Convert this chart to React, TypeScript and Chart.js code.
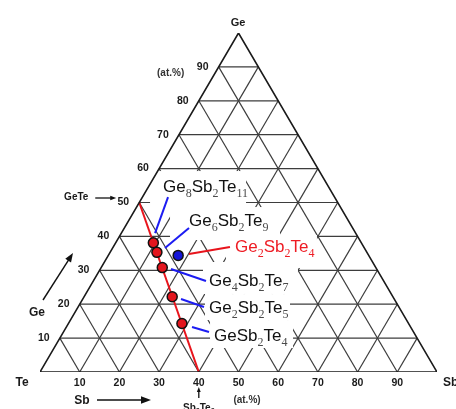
import React, { useEffect, useRef } from "react";
import { Chart, registerables } from "chart.js";

Chart.register(...registerables);

// ---- data ----
const gridTicks = [10, 20, 30, 40, 50, 60, 70, 80, 90];
const tickLabels = ["10", "20", "30", "40", "50", "60", "70", "80", "90"];
const compoundNames = ["Ge8Sb2Te11", "Ge6Sb2Te9", "Ge4Sb2Te7", "Ge2Sb2Te5", "GeSb2Te4"];
const compoundGe = [38.1, 35.3, 30.8, 22.2, 14.3];
const compoundSb = [9.5, 11.8, 15.4, 22.2, 28.6];
const extraNames = ["Ge2Sb2Te4"];
const extraGe = [34.4];
const extraSb = [17.6];
const tieLineGe = [50, 0];
const tieLineSb = [0, 40];

// ---- layout (pixel offsets from each point) ----
const compoundLayout = [
  { text: [9.7, -50.8], lead: [1.7, -9.8, 14.7, -45.8], box: [-3.3, -71.8, 92.7, -32.8] },
  { text: [32.1, -26.8], lead: [8.1, -4.3, 32.1, -24.3], box: [13.1, -45.3, 123.1, -12.3] },
  { text: [46.7, 18.4], lead: [8.7, 1.4, 43.7, 13.4], box: [40.7, -5.6, 135.7, 26.4] },
  { text: [36.8, 16.3], lead: [8.8, 2.3, 31.8, 10.3], box: [32.8, -2.7, 117.8, 23.3] },
  { text: [32.1, 17.5], lead: [10.1, 3.5, 27.1, 8.5], box: [28.1, -3.5, 111.1, 24.5] },
];
const extraLayout = [
  { text: [56.8, -2.9], lead: [10.8, -1.4, 51.8, -8.4], box: [47.8, -20.4, 138.8, 12.6] },
];

const toXY = (ge: number, sb: number) => ({ x: sb + ge / 2, y: ge });

const FONT = '"Liberation Sans", Arial, sans-serif';
const SERIF = '"Liberation Serif", "Times New Roman", serif';
const RED = "#e8141c";
const BLUE = "#1c1cf2";

function drawFormula(
  ctx: CanvasRenderingContext2D,
  name: string,
  x: number,
  y: number,
  mainFont: string,
  subFont: string,
  subDy: number,
  color: string,
  subColor: string
) {
  const re = /([A-Z][a-z]*)(\d*)/g;
  let m: RegExpExecArray | null;
  let cx = x;
  ctx.textAlign = "left";
  ctx.textBaseline = "alphabetic";
  while ((m = re.exec(name)) !== null) {
    ctx.font = mainFont;
    ctx.fillStyle = color;
    ctx.fillText(m[1], cx, y);
    cx += ctx.measureText(m[1]).width;
    if (m[2]) {
      ctx.font = subFont;
      ctx.fillStyle = subColor;
      ctx.fillText(m[2], cx, y + subDy);
      cx += ctx.measureText(m[2]).width;
    }
  }
  return cx - x;
}

function measureFormula(ctx: CanvasRenderingContext2D, name: string, mainFont: string, subFont: string) {
  const re = /([A-Z][a-z]*)(\d*)/g;
  let m: RegExpExecArray | null;
  let w = 0;
  while ((m = re.exec(name)) !== null) {
    ctx.font = mainFont;
    w += ctx.measureText(m[1]).width;
    if (m[2]) {
      ctx.font = subFont;
      w += ctx.measureText(m[2]).width;
    }
  }
  return w;
}

function arrow(ctx: CanvasRenderingContext2D, x1: number, y1: number, x2: number, y2: number, head: number, width: number) {
  const ang = Math.atan2(y2 - y1, x2 - x1);
  ctx.save();
  ctx.strokeStyle = "#111";
  ctx.fillStyle = "#111";
  ctx.lineWidth = width;
  ctx.beginPath();
  ctx.moveTo(x1, y1);
  ctx.lineTo(x2 - Math.cos(ang) * head * 0.8, y2 - Math.sin(ang) * head * 0.8);
  ctx.stroke();
  ctx.beginPath();
  ctx.moveTo(x2, y2);
  ctx.lineTo(x2 - Math.cos(ang) * head + Math.sin(ang) * head * 0.38, y2 - Math.sin(ang) * head - Math.cos(ang) * head * 0.38);
  ctx.lineTo(x2 - Math.cos(ang) * head - Math.sin(ang) * head * 0.38, y2 - Math.sin(ang) * head + Math.cos(ang) * head * 0.38);
  ctx.closePath();
  ctx.fill();
  ctx.restore();
}

export default function App() {
  const ref = useRef<HTMLCanvasElement | null>(null);

  useEffect(() => {
    if (!ref.current) return;

    const lineDs = (pts: { x: number; y: number }[], color: string, width: number, order: number, extra: any = {}) => ({
      type: "line" as const,
      data: pts,
      showLine: true,
      borderColor: color,
      borderWidth: width,
      pointRadius: 0,
      fill: false,
      tension: 0,
      order,
      ...extra,
    });

    const datasets: any[] = [];
    // internal grid lines
    gridTicks.forEach((t) => {
      datasets.push(lineDs([toXY(t, 0), toXY(t, 100 - t)], "#3d3d3d", 1.2, 10));
      datasets.push(lineDs([toXY(0, t), toXY(100 - t, t)], "#3d3d3d", 1.2, 10));
      datasets.push(lineDs([toXY(0, 100 - t), toXY(100 - t, 0)], "#3d3d3d", 1.2, 10));
    });
    // tie line GeTe - Sb2Te3 (white label boxes are painted just before it)
    datasets.push(
      lineDs(
        tieLineGe.map((g, i) => toXY(g, tieLineSb[i])),
        RED,
        2,
        5,
        { _tie: true }
      )
    );
    // outer triangle
    datasets.push(
      lineDs([toXY(0, 0), toXY(0, 100), toXY(100, 0), toXY(0, 0)], "#1a1a1a", 1.6, 4)
    );
    // compound points
    datasets.push({
      type: "scatter",
      data: compoundGe.map((g, i) => toXY(g, compoundSb[i])),
      pointRadius: 5,
      pointBackgroundColor: "#e3151d",
      pointBorderColor: "#111",
      pointBorderWidth: 1.5,
      showLine: false,
      order: 2,
    });
    datasets.push({
      type: "scatter",
      data: extraGe.map((g, i) => toXY(g, extraSb[i])),
      pointRadius: 5,
      pointBackgroundColor: "#1414d8",
      pointBorderColor: "#111",
      pointBorderWidth: 1.5,
      showLine: false,
      order: 1,
    });

    const mainFont = `17px ${FONT}`;
    const subFont = `12px ${SERIF}`;

    const labelItems = () => {
      const items: { name: string; ge: number; sb: number; lay: any; color: string; subColor: string; lead: string }[] = [];
      compoundNames.forEach((n, i) =>
        items.push({ name: n, ge: compoundGe[i], sb: compoundSb[i], lay: compoundLayout[i], color: "#111", subColor: "#4a4a4a", lead: BLUE })
      );
      extraNames.forEach((n, i) =>
        items.push({ name: n, ge: extraGe[i], sb: extraSb[i], lay: extraLayout[i], color: "#ee1c24", subColor: "#ee1c24", lead: RED })
      );
      return items;
    };

    const overlay = {
      id: "overlay",
      beforeDatasetDraw(chart: any, args: any) {
        if (!chart.data.datasets[args.index]._tie) return;
        const ctx = chart.ctx as CanvasRenderingContext2D;
        const xs = chart.scales.x;
        const ys = chart.scales.y;
        ctx.save();
        ctx.fillStyle = "#ffffff";
        labelItems().forEach((it) => {
          const p = toXY(it.ge, it.sb);
          const px = xs.getPixelForValue(p.x);
          const py = ys.getPixelForValue(p.y);
          const b = it.lay.box;
          ctx.fillRect(px + b[0], py + b[1], b[2] - b[0], b[3] - b[1]);
        });
        ctx.restore();
      },
      afterDatasetDraw(chart: any, args: any) {
        if (!chart.data.datasets[args.index]._tie) return;
        const ctx = chart.ctx as CanvasRenderingContext2D;
        const xs = chart.scales.x;
        const ys = chart.scales.y;
        ctx.save();
        ctx.lineWidth = 2;
        labelItems().forEach((it) => {
          const p = toXY(it.ge, it.sb);
          const px = xs.getPixelForValue(p.x);
          const py = ys.getPixelForValue(p.y);
          const l = it.lay.lead;
          ctx.strokeStyle = it.lead;
          ctx.beginPath();
          ctx.moveTo(px + l[0], py + l[1]);
          ctx.lineTo(px + l[2], py + l[3]);
          ctx.stroke();
        });
        ctx.restore();
      },
      afterDraw(chart: any) {
        const ctx = chart.ctx as CanvasRenderingContext2D;
        const xs = chart.scales.x;
        const ys = chart.scales.y;
        const P = (ge: number, sb: number) => {
          const p = toXY(ge, sb);
          return [xs.getPixelForValue(p.x), ys.getPixelForValue(p.y)];
        };
        ctx.save();
        // compound labels
        labelItems().forEach((it) => {
          const [px, py] = P(it.ge, it.sb);
          drawFormula(ctx, it.name, px + it.lay.text[0], py + it.lay.text[1], mainFont, subFont, 5, it.color, it.subColor);
        });

        // axis tick labels
        ctx.fillStyle = "#1a1a1a";
        ctx.textBaseline = "middle";
        ctx.textAlign = "center";
        ctx.font = `bold 10.5px ${FONT}`;
        gridTicks.forEach((t, i) => {
          const [lx, ly] = P(t, 0);
          ctx.fillText(tickLabels[i], lx - 16, ly);
          const [bx, by] = P(0, t);
          ctx.fillText(tickLabels[i], bx, by + 11.5);
        });

        const [tx, ty] = P(0, 0);
        const [sx, sy] = P(0, 100);
        const [gx, gy] = P(100, 0);
        ctx.font = `bold 12px ${FONT}`;
        ctx.fillText("Te", tx - 18, ty + 11);
        ctx.textAlign = "left";
        ctx.fillText("Sb", sx + 6, sy + 11);
        ctx.textAlign = "center";
        ctx.font = `bold 11px ${FONT}`;
        ctx.fillText("Ge", gx - 0.5, gy - 10);

        // top-left (at.%)
        const [g90x, g90y] = P(90, 0);
        ctx.font = `bold 10px ${FONT}`;
        ctx.fillStyle = "#333";
        ctx.fillText("(at.%)", g90x - 48, g90y + 6);

        // GeTe arrow
        const [g50x, g50y] = P(50, 0);
        ctx.fillStyle = "#1a1a1a";
        ctx.font = `bold 10px ${FONT}`;
        ctx.fillText("GeTe", g50x - 63, g50y - 5);
        arrow(ctx, g50x - 44, g50y - 4.5, g50x - 23, g50y - 4.5, 6, 1.3);

        // Ge arrow on the left
        ctx.font = `bold 12px ${FONT}`;
        ctx.fillText("Ge", tx - 3, ty - 59);
        arrow(ctx, tx + 3, ty - 72, tx + 33, ty - 119, 9, 1.4);

        // Sb arrow at the bottom
        ctx.fillText("Sb", tx + 42, ty + 29);
        arrow(ctx, tx + 57, ty + 28, tx + 111, ty + 28, 10, 1.4);

        // bottom (at.%)
        ctx.font = `bold 10px ${FONT}`;
        ctx.fillStyle = "#333";
        ctx.fillText("(at.%)", tx + 207, ty + 28.5);

        // Sb2Te3 marker
        const [s40x, s40y] = P(0, 40);
        ctx.fillStyle = "#1a1a1a";
        arrow(ctx, s40x, s40y + 26, s40x, s40y + 15, 5, 1.3);
        const fw = measureFormula(ctx, "Sb2Te3", `bold 10px ${FONT}`, `bold 7px ${FONT}`);
        drawFormula(ctx, "Sb2Te3", s40x - fw / 2, s40y + 38.5, `bold 10px ${FONT}`, `bold 7px ${FONT}`, 2, "#1a1a1a", "#1a1a1a");

        ctx.restore();
      },
    };

    const chart = new Chart(ref.current, {
      type: "scatter",
      data: { datasets },
      options: {
        animation: false,
        responsive: false,
        maintainAspectRatio: false,
        devicePixelRatio: 1,
        events: [],
        layout: { padding: { left: 40, right: 19, top: 33, bottom: 37 } },
        plugins: { legend: { display: false }, tooltip: { enabled: false } },
        scales: {
          x: { type: "linear", min: 0, max: 100, display: false },
          y: { type: "linear", min: 0, max: 100, display: false },
        },
      },
      plugins: [overlay],
    } as any);

    return () => chart.destroy();
  }, []);

  return (
    <div style={{ position: "absolute", left: 0, top: 0, width: 456, height: 409, background: "#fff" }}>
      <canvas ref={ref} width={456} height={409} style={{ width: 456, height: 409, display: "block" }} />
    </div>
  );
}
